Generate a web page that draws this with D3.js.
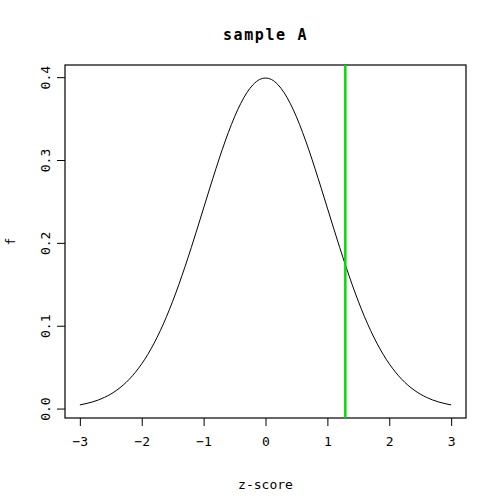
<!DOCTYPE html>
<html lang="en">
  <head>
    <meta charset="UTF-8" />
    <title>sample A</title>
    <script src="https://d3js.org/d3.v7.min.js"></script>
    <style>
      body { margin: 0; background: #fff; }
      svg text { font-family: "DejaVu Sans Mono", monospace; fill: #000; }
      .axis path, .axis line { stroke: #000; }
    </style>
  </head>
  <body>
    <svg id="chart" width="500" height="500"></svg>
    <script>
      // z values and density
      const zValues = [
        -3.0, -2.9, -2.8, -2.7, -2.6, -2.5, -2.4, -2.3, -2.2, -2.1,
        -2.0, -1.9, -1.8, -1.7, -1.6, -1.5, -1.4, -1.3, -1.2, -1.1,
        -1.0, -0.9, -0.8, -0.7, -0.6, -0.5, -0.4, -0.3, -0.2, -0.1,
        0.0, 0.1, 0.2, 0.3, 0.4, 0.5, 0.6, 0.7, 0.8, 0.9,
        1.0, 1.1, 1.2, 1.3, 1.4, 1.5, 1.6, 1.7, 1.8, 1.9,
        2.0, 2.1, 2.2, 2.3, 2.4, 2.5, 2.6, 2.7, 2.8, 2.9, 3.0
      ];
      const fValues = [
        0.0044, 0.0060, 0.0079, 0.0104, 0.0136, 0.0175, 0.0224, 0.0283, 0.0355, 0.0440,
        0.0540, 0.0656, 0.0790, 0.0940, 0.1109, 0.1295, 0.1497, 0.1714, 0.1942, 0.2179,
        0.2420, 0.2661, 0.2897, 0.3123, 0.3332, 0.3521, 0.3683, 0.3814, 0.3910, 0.3970,
        0.3989, 0.3970, 0.3910, 0.3814, 0.3683, 0.3521, 0.3332, 0.3123, 0.2897, 0.2661,
        0.2420, 0.2179, 0.1942, 0.1714, 0.1497, 0.1295, 0.1109, 0.0940, 0.0790, 0.0656,
        0.0540, 0.0440, 0.0355, 0.0283, 0.0224, 0.0175, 0.0136, 0.0104, 0.0079, 0.0060, 0.0044
      ];
      const cutoff = 1.29;
      const xTicks = [-3, -2, -1, 0, 1, 2, 3];
      const yTicks = [0.0, 0.1, 0.2, 0.3, 0.4];
      const title = "sample A";
      const xLabel = "z-score";
      const yLabel = "f";

      const data = zValues.map((z, i) => ({ z: z, f: fValues[i] }));

      const svg = d3.select("#chart");
      const box = { left: 65, right: 466, top: 65, bottom: 418 };

      // R-style 4% padding around the data range
      const xr = d3.extent(zValues);
      const yr = d3.extent(fValues);
      const xp = (xr[1] - xr[0]) * 0.04;
      const yp = (yr[1] - yr[0]) * 0.04;
      const x = d3.scaleLinear().domain([xr[0] - xp, xr[1] + xp]).range([box.left, box.right]);
      const y = d3.scaleLinear().domain([yr[0] - yp, yr[1] + yp]).range([box.bottom, box.top]);

      // axes
      const xAxis = svg.append("g")
        .attr("class", "axis")
        .attr("transform", `translate(0,${box.bottom})`)
        .call(d3.axisBottom(x).tickValues(xTicks).tickSize(8).tickPadding(11).tickFormat(d3.format("d")));
      xAxis.select(".domain").remove();
      xAxis.selectAll("text").attr("font-size", 13);

      const yAxis = svg.append("g")
        .attr("class", "axis")
        .attr("transform", `translate(${box.left},0)`)
        .call(d3.axisLeft(y).tickValues(yTicks).tickSize(8).tickFormat(d3.format(".1f")));
      yAxis.select(".domain").remove();
      yAxis.selectAll("text")
        .attr("font-size", 13)
        .attr("text-anchor", "middle")
        .attr("x", 0).attr("y", 0).attr("dy", null)
        .attr("transform", "translate(-20,0) rotate(-90)")
        .attr("dominant-baseline", "central");

      // frame
      svg.append("rect")
        .attr("x", box.left).attr("y", box.top)
        .attr("width", box.right - box.left).attr("height", box.bottom - box.top)
        .attr("fill", "none").attr("stroke", "#000").attr("stroke-width", 1.2);

      // density curve
      svg.append("path")
        .datum(data)
        .attr("fill", "none")
        .attr("stroke", "#000")
        .attr("stroke-width", 1)
        .attr("d", d3.line().curve(d3.curveMonotoneX).x(d => x(d.z)).y(d => y(d.f)));

      // cutoff line
      svg.append("line")
        .attr("x1", x(cutoff)).attr("x2", x(cutoff))
        .attr("y1", box.top).attr("y2", box.bottom)
        .attr("stroke", "#00dd00").attr("stroke-width", 2.5);

      // titles
      svg.append("text")
        .attr("x", (box.left + box.right) / 2).attr("y", 35)
        .attr("text-anchor", "middle").attr("dominant-baseline", "central")
        .attr("font-size", 15).attr("font-weight", "bold").attr("letter-spacing", 1.6)
        .text(title);
      svg.append("text")
        .attr("x", (box.left + box.right) / 2).attr("y", 484)
        .attr("text-anchor", "middle").attr("dominant-baseline", "central")
        .attr("font-size", 13)
        .text(xLabel);
      svg.append("text")
        .attr("transform", `translate(10,${(box.top + box.bottom) / 2}) rotate(-90)`)
        .attr("text-anchor", "middle").attr("dominant-baseline", "central")
        .attr("font-size", 13)
        .text(yLabel);
    </script>
  </body>
</html>
